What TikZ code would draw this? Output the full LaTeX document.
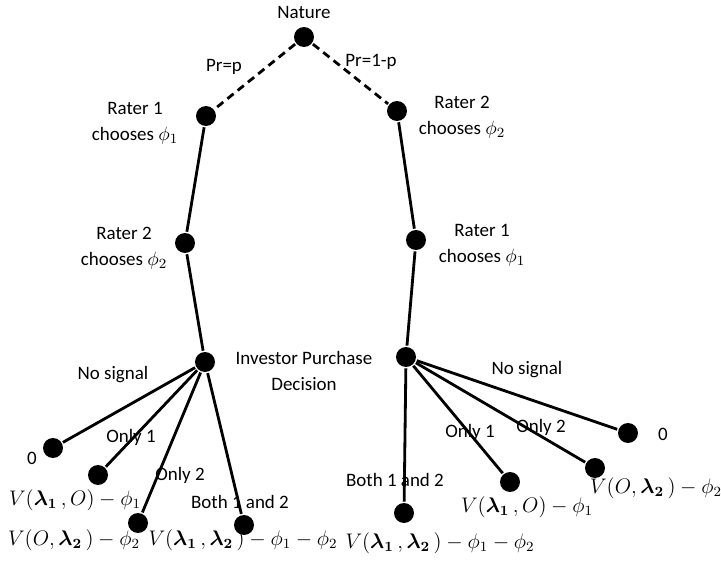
\documentclass[tikz,border=0pt]{standalone}
\usepackage{amsmath}
\usepackage{fontspec}
\setmainfont{Carlito}

\begin{document}
\begin{tikzpicture}[x=0.02cm, y=-0.02cm, line width=1.6pt,
		dot/.style={circle, fill=black, inner sep=0pt, minimum size=0.4cm},
		lbl/.style={font=\fontsize{10.8}{15}\selectfont, align=center, inner sep=1pt},
		pay/.style={font=\fontsize{11.8}{14}\selectfont, inner sep=1pt},
		chance/.style={dash pattern=on 4.5pt off 3pt}]
	\useasboundingbox (0,0) rectangle (721,568);
	
	% --- 1. Entscheidungsknoten ---
	\node[dot] (N) at (304,37) {};
	\node[dot] (L1) at (206,116) {};
	\node[dot] (L2) at (185,243) {};
	\node[dot] (LI) at (205,362) {};
	\node[dot] (R2) at (397,111) {};
	\node[dot] (R1) at (416,240) {};
	\node[dot] (RI) at (406,357) {};
	
	% --- 2. Endknoten ---
	\node[dot] (L0) at (53,448) {};
	\node[dot] (La) at (98,475) {};
	\node[dot] (Lb) at (138,523) {};
	\node[dot] (Lc) at (244,525) {};
	\node[dot] (R0) at (628,433) {};
	\node[dot] (Ra) at (510,482) {};
	\node[dot] (Rb) at (595,468) {};
	\node[dot] (Rc) at (404,513) {};
	
	% --- 3. Kanten ---
	\draw[chance] (N) -- (L1);
	\draw[chance] (N) -- (R2);
	\draw (L1) -- (L2) -- (LI);
	\draw (R2) -- (R1) -- (RI);
	\draw (LI) -- (L0);
	\draw (LI) -- (La);
	\draw (LI) -- (Lb);
	\draw (LI) -- (Lc);
	\draw (RI) -- (R0);
	\draw (RI) -- (Ra);
	\draw (RI) -- (Rb);
	\draw (RI) -- (Rc);
	
	% --- 4. Beschriftungen ---
	\node[lbl] at (304,12) {Nature};
	\node[lbl] at (224,67) {Pr=p};
	\node[lbl] at (371,62) {Pr=1-p};
	\node[lbl] at (135,123) {Rater 1\\chooses $\phi_1$};
	\node[lbl] at (124,248) {Rater 2\\chooses $\phi_2$};
	\node[lbl] at (462,117) {Rater 2\\chooses $\phi_2$};
	\node[lbl] at (482,245) {Rater 1\\chooses $\phi_1$};
	\node[lbl] at (304,371) {Investor Purchase\\Decision};
	
	% Aeste links
	\node[lbl] at (113,375) {No signal};
	\node[lbl] at (131,437) {Only 1};
	\node[lbl] at (180,475) {Only 2};
	\node[lbl] at (240,502) {Both 1 and 2};
	% Aeste rechts
	\node[lbl] at (527,370) {No signal};
	\node[lbl] at (470,432) {Only 1};
	\node[lbl] at (541,427) {Only 2};
	\node[lbl] at (395,480) {Both 1 and 2};
	
	% --- 5. Auszahlungen ---
	\node[lbl] at (32,458) {0};
	\node[pay] at (75,500) {$V(\boldsymbol{\lambda_1}\,,O)-\phi_1$};
	\node[pay] at (74,540) {$V(O,\boldsymbol{\lambda_2}\,)-\phi_2$};
	\node[pay] at (243,540) {$V(\boldsymbol{\lambda_1}\,,\boldsymbol{\lambda_2}\,)-\phi_1-\phi_2$};
	\node[lbl] at (663,434) {0};
	\node[pay] at (527,507) {$V(\boldsymbol{\lambda_1}\,,O)-\phi_1$};
	\node[pay] at (656,488) {$V(O,\boldsymbol{\lambda_2}\,)-\phi_2$};
	\node[pay] at (440,543) {$V(\boldsymbol{\lambda_1}\,,\boldsymbol{\lambda_2}\,)-\phi_1-\phi_2$};
\end{tikzpicture}
\end{document}
